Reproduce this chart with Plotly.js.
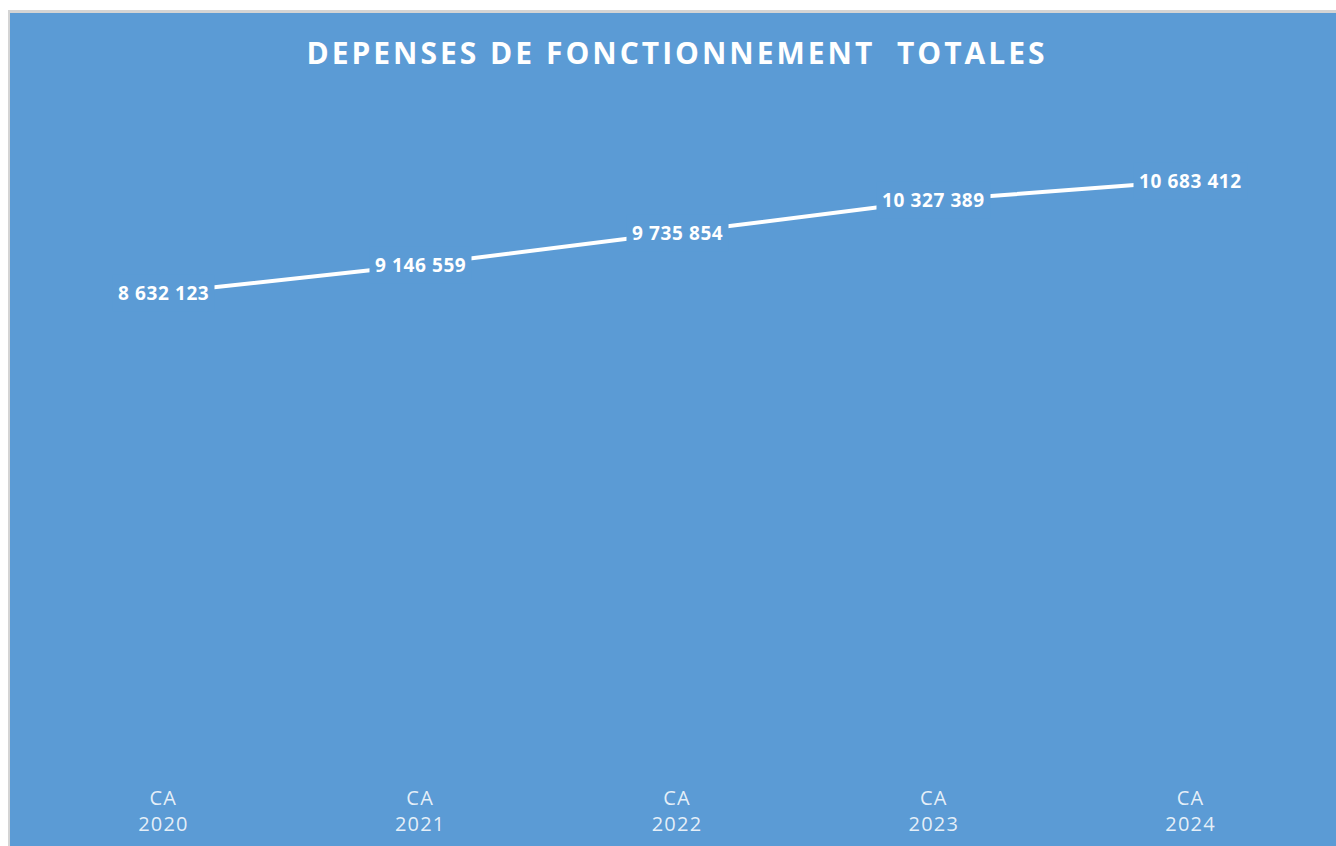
<!DOCTYPE html>
<html>
<head>
<meta charset="utf-8">
<script src="https://cdn.plot.ly/plotly-3.0.1.min.js"></script>
<style>
  html, body { margin: 0; padding: 0; background: #ffffff; width: 1336px; height: 846px; overflow: hidden; }
  #frame { position: absolute; left: 8px; top: 10px; width: 1328px; height: 836px; border-left: 2px solid #d4d4d4; border-top: 3px solid #d4d4d4; box-sizing: border-box; }
  #chart { position: absolute; left: 10px; top: 13px; width: 1326px; height: 833px; }
  .gtitle { letter-spacing: 3px; }
  .xtick text { letter-spacing: 1.2px; }
  .annotation-text { letter-spacing: 0.6px; }
</style>
</head>
<body>
<div id="frame"></div>
<div id="chart"></div>
<script>
const categories = ["CA 2020", "CA 2021", "CA 2022", "CA 2023", "CA 2024"];
const tickLabels = ["CA<br>2020", "CA<br>2021", "CA<br>2022", "CA<br>2023", "CA<br>2024"];
const depenses = [8632123, 9146559, 9735854, 10327389, 10683412];

const BLUE = "#5B9BD5";
const idx = categories.map((c, i) => i);

function fmt(v) {
  return String(v).replace(/\B(?=(\d{3})+(?!\d))/g, " ");
}

const trace = {
  type: "scatter",
  mode: "lines",
  x: idx,
  y: depenses,
  line: { color: "#ffffff", width: 4 },
  hoverinfo: "skip"
};

const annotations = depenses.map((v, i) => ({
  x: i, y: v, xref: "x", yref: "y",
  text: "<b>" + fmt(v) + "</b>",
  showarrow: false,
  font: { family: "Open Sans, sans-serif", size: 19, color: "#ffffff" },
  bgcolor: BLUE,
  borderpad: 5,
  xanchor: "center", yanchor: "middle"
}));

const layout = {
  width: 1326, height: 833,
  paper_bgcolor: BLUE,
  plot_bgcolor: BLUE,
  margin: { l: 24.5, r: 16.5, t: 96, b: 82 },
  showlegend: false,
  title: {
    text: "<b>DEPENSES DE FONCTIONNEMENT  TOTALES</b>",
    font: { family: "Open Sans, sans-serif", size: 30, color: "#ffffff" },
    x: 0.5, xanchor: "center", xref: "paper",
    y: 0.951, yanchor: "middle", yref: "container"
  },
  xaxis: {
    range: [-0.5, 4.5],
    tickvals: idx,
    ticktext: tickLabels,
    showgrid: false, zeroline: false, showline: false,
    ticks: "",
    ticklabelstandoff: 20,
    tickfont: { family: "Open Sans, sans-serif", size: 20, color: "rgba(255,255,255,0.85)" },
    fixedrange: true
  },
  yaxis: {
    range: [0, 12000000],
    visible: false,
    showgrid: false, zeroline: false,
    fixedrange: true
  },
  annotations: annotations
};

Plotly.newPlot("chart", [trace], layout, { displayModeBar: false, staticPlot: true });
</script>
</body>
</html>
